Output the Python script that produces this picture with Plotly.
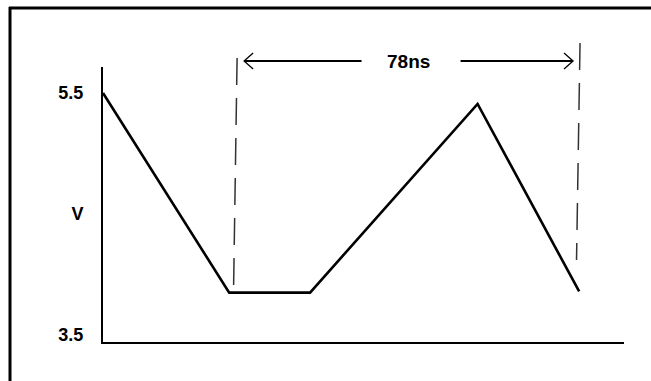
import plotly.graph_objects as go

# Waveform: time (ns) vs voltage (V)
TIME_NS = [0.0, 28.7, 47.1, 85.2, 108.3]
VOLTS = [5.5, 3.85, 3.85, 5.41, 3.86]

# Period markers
MARK_START_NS = 30.5
SPAN_NS = 78
MARKS_NS = [MARK_START_NS, MARK_START_NS + SPAN_NS]
SPAN_LABEL = f"{SPAN_NS}ns"

# Y axis labels
Y_TICKS = [3.5, 4.5, 5.5]
Y_TICK_TEXT = ["3.5", "V", "5.5"]

X_RANGE = [0, 118.5]
Y_RANGE = [3.442, 5.715]

W, H = 651, 381
M_L, M_R, M_T, M_B = 103, 27, 67, 39
PLOT_W = W - M_L - M_R
PLOT_H = H - M_T - M_B
FONT = "Liberation Sans, Arial, sans-serif"


def px_to_paper_y(py):
    return (H - M_B - py) / PLOT_H


def px_to_paper_x(px):
    return (px - M_L) / PLOT_W


NS_PER_PX = (X_RANGE[1] - X_RANGE[0]) / PLOT_W

fig = go.Figure()
fig.add_trace(go.Scatter(
    x=TIME_NS, y=VOLTS, mode="lines",
    line=dict(color="black", width=2.6),
    hoverinfo="skip", showlegend=False,
))

shapes = []
# frame lines along the top and left
shapes.append(dict(type="line", xref="paper", yref="paper",
                   x0=px_to_paper_x(10), x1=px_to_paper_x(10),
                   y0=px_to_paper_y(7), y1=px_to_paper_y(H + 2),
                   line=dict(color="black", width=3)))
shapes.append(dict(type="line", xref="paper", yref="paper",
                   x0=px_to_paper_x(9), x1=px_to_paper_x(W + 2),
                   y0=px_to_paper_y(8), y1=px_to_paper_y(8),
                   line=dict(color="black", width=3)))

# dashed period markers
dash_tops = [58, 43]
dash_bottoms = [287, 260]
for t, top, bot in zip(MARKS_NS, dash_tops, dash_bottoms):
    shapes.append(dict(type="line", xref="x", yref="paper",
                       x0=t, x1=t - 3.5 * NS_PER_PX,
                       y0=px_to_paper_y(top), y1=px_to_paper_y(bot),
                       line=dict(color="#333333", width=1.5, dash="27px,13px")))

# dimension arrow
arrow_y = px_to_paper_y(61)
tip_gap = 7 * NS_PER_PX
mid = (MARKS_NS[0] + MARKS_NS[1]) / 2
shapes.append(dict(type="line", xref="x", yref="paper",
                   x0=MARKS_NS[0] + tip_gap, x1=mid - 47 * NS_PER_PX,
                   y0=arrow_y, y1=arrow_y,
                   line=dict(color="black", width=2)))
shapes.append(dict(type="line", xref="x", yref="paper",
                   x0=mid + 52 * NS_PER_PX, x1=MARKS_NS[1] - tip_gap,
                   y0=arrow_y, y1=arrow_y,
                   line=dict(color="black", width=2)))
for tip, sgn in [(MARKS_NS[0] + tip_gap, 1), (MARKS_NS[1] - tip_gap, -1)]:
    shapes.append(dict(type="path", xref="x", yref="paper",
                       xsizemode="pixel", ysizemode="pixel",
                       xanchor=tip, yanchor=arrow_y,
                       path=f"M {9 * sgn},8 L 0,0 L {9 * sgn},-8",
                       line=dict(color="black", width=1.3)))

fig.update_layout(
    width=W, height=H,
    margin=dict(l=M_L, r=M_R, t=M_T, b=M_B, pad=0),
    paper_bgcolor="white", plot_bgcolor="white",
    shapes=shapes,
    showlegend=False,
    annotations=[dict(
        x=mid, y=arrow_y, xref="x", yref="paper",
        text=SPAN_LABEL, showarrow=False,
        xanchor="center", yanchor="middle",
        font=dict(family=FONT, size=19, color="black", weight="bold"),
    )],
)
fig.update_xaxes(
    range=X_RANGE, showgrid=False, zeroline=False,
    showticklabels=False, ticks="",
    showline=True, linecolor="black", linewidth=2,
)
fig.update_yaxes(
    range=Y_RANGE, showgrid=False, zeroline=False,
    tickmode="array", tickvals=Y_TICKS, ticktext=Y_TICK_TEXT,
    ticks="", ticklabelstandoff=14,
    tickfont=dict(family=FONT, size=18, color="black", weight="bold"),
    showline=True, linecolor="black", linewidth=2,
)

fig.write_html("out.html")
